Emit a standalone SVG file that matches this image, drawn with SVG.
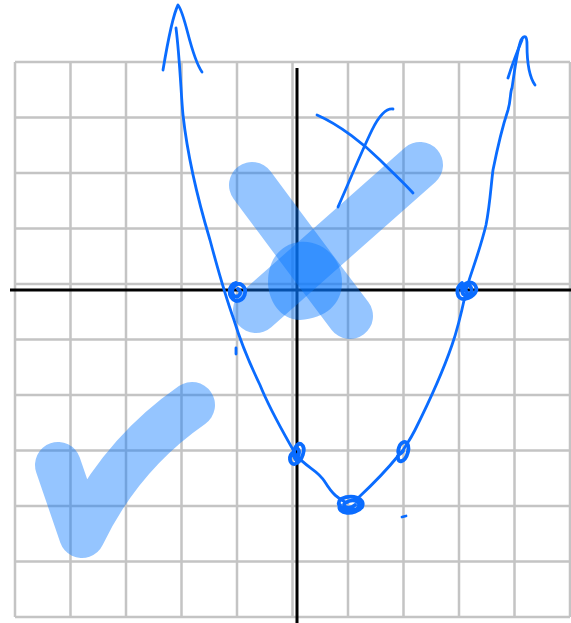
<svg xmlns="http://www.w3.org/2000/svg" width="571" height="623" viewBox="0 0 571 623">
<style>
.grid{stroke:#c4c4c4;stroke-width:2.5;fill:none}
.axis{stroke:#000;stroke-width:3;fill:none}
.hl{fill:none;stroke:#0a78ff;stroke-opacity:0.43;stroke-width:46;stroke-linecap:round;stroke-linejoin:round}
.pen{fill:none;stroke:#0a6cff;stroke-width:2.8;stroke-linecap:round;stroke-linejoin:round}
.dot{fill:none;stroke:#0a6cff;stroke-width:3.8;stroke-linecap:round;stroke-linejoin:round}
</style>
<rect width="571" height="623" fill="#fff"/>
<g id="grid">
<path class="grid" d="M15,62V617M70.5,62V617M126,62V617M181.5,62V617M237,62V617M292.5,62V617M348,62V617M403.5,62V617M459,62V617M514.5,62V617M570,62V617"/>
<path class="grid" d="M15,62H570M15,117.5H570M15,173H570M15,228.5H570M15,284H570M15,339.5H570M15,395H570M15,450.5H570M15,506H570M15,561.5H570M15,617H570"/>
</g>
<g id="axes">
<path class="axis" d="M10,290H571M297,68V623"/>
</g>
<g id="highlights">
<path class="hl" d="M58,465 L82,535 Q120,455 192,405"/>
<path class="hl" d="M252,185 Q300,250 350,316"/>
<path class="hl" d="M420,165 L256,310"/>
<path d="M300,242 C322,240 342,258 342,282 C342,305 325,318 300,320 C280,320 268,300 268,282 C268,260 280,244 300,242 Z" fill="#0a78ff" fill-opacity="0.43"/>
</g>
<g id="curve">
<path class="pen" d="M163,70 C168,40 173,15 178,5 C186,15 190,55 202,72"/>
<path class="pen" d="M176,28 C180,60 181,95 183,115 C188,160 198,200 210,240 C218,270 225,295 234,320 C240,340 248,360 260,385 C270,410 282,430 296,455"/>
<path class="pen" d="M296,455 C307,468 318,470 325,482 C333,495 338,498 345,502"/>
<path class="pen" d="M358,498 C372,485 385,472 398,456"/>
<path class="pen" d="M402,452 C406,445 410,440 415,430 C425,410 440,380 452,345 C458,328 462,310 465,296"/>
<path class="pen" d="M466,290 C472,270 480,250 486,225 C490,205 491,185 493,170 C497,150 502,128 508,110 C511,100 510,92 512,88 C514,75 517,50 521,40 C525,34 527,36 527,45 C527,60 528,75 535,85"/>
<path class="pen" d="M508,78 C512,65 517,52 522,40"/>
<path class="pen" d="M236,348 L236,354"/>
<path class="pen" d="M402,517 L406,516"/>
</g>
<g id="points">
<path class="dot" d="M236,283 C228,284 227,298 236,301 C245,301 248,290 242,285 C236,281 229,290 234,296 C239,298 243,292 238,289"/>
<path class="dot" d="M294,452 C288,455 289,465 295,464 C302,462 307,448 301,444 C296,442 291,453 296,460 C299,456 300,451 298,449"/>
<path class="dot" d="M340,505 C336,514 355,516 362,507 C366,498 352,494 341,499 C334,505 344,514 357,509 C363,503 355,497 345,503 C341,507 350,510 355,505"/>
<path class="dot" d="M398,456 C397,464 405,463 408,452 C410,442 404,439 400,445 C397,451 398,458 403,451"/>
<path class="dot" d="M462,283 C455,288 456,300 465,299 C474,297 480,290 474,284 C468,279 459,286 463,294 C468,298 475,292 470,286 C466,283 462,290 467,292"/>
</g>
<g id="x-mark">
<path class="pen" d="M317,115 C340,125 365,145 380,160 C392,172 404,183 413,193"/>
<path class="pen" d="M338,207 C350,180 360,155 372,130 C378,118 385,108 393,109"/>
</g>
</svg>
